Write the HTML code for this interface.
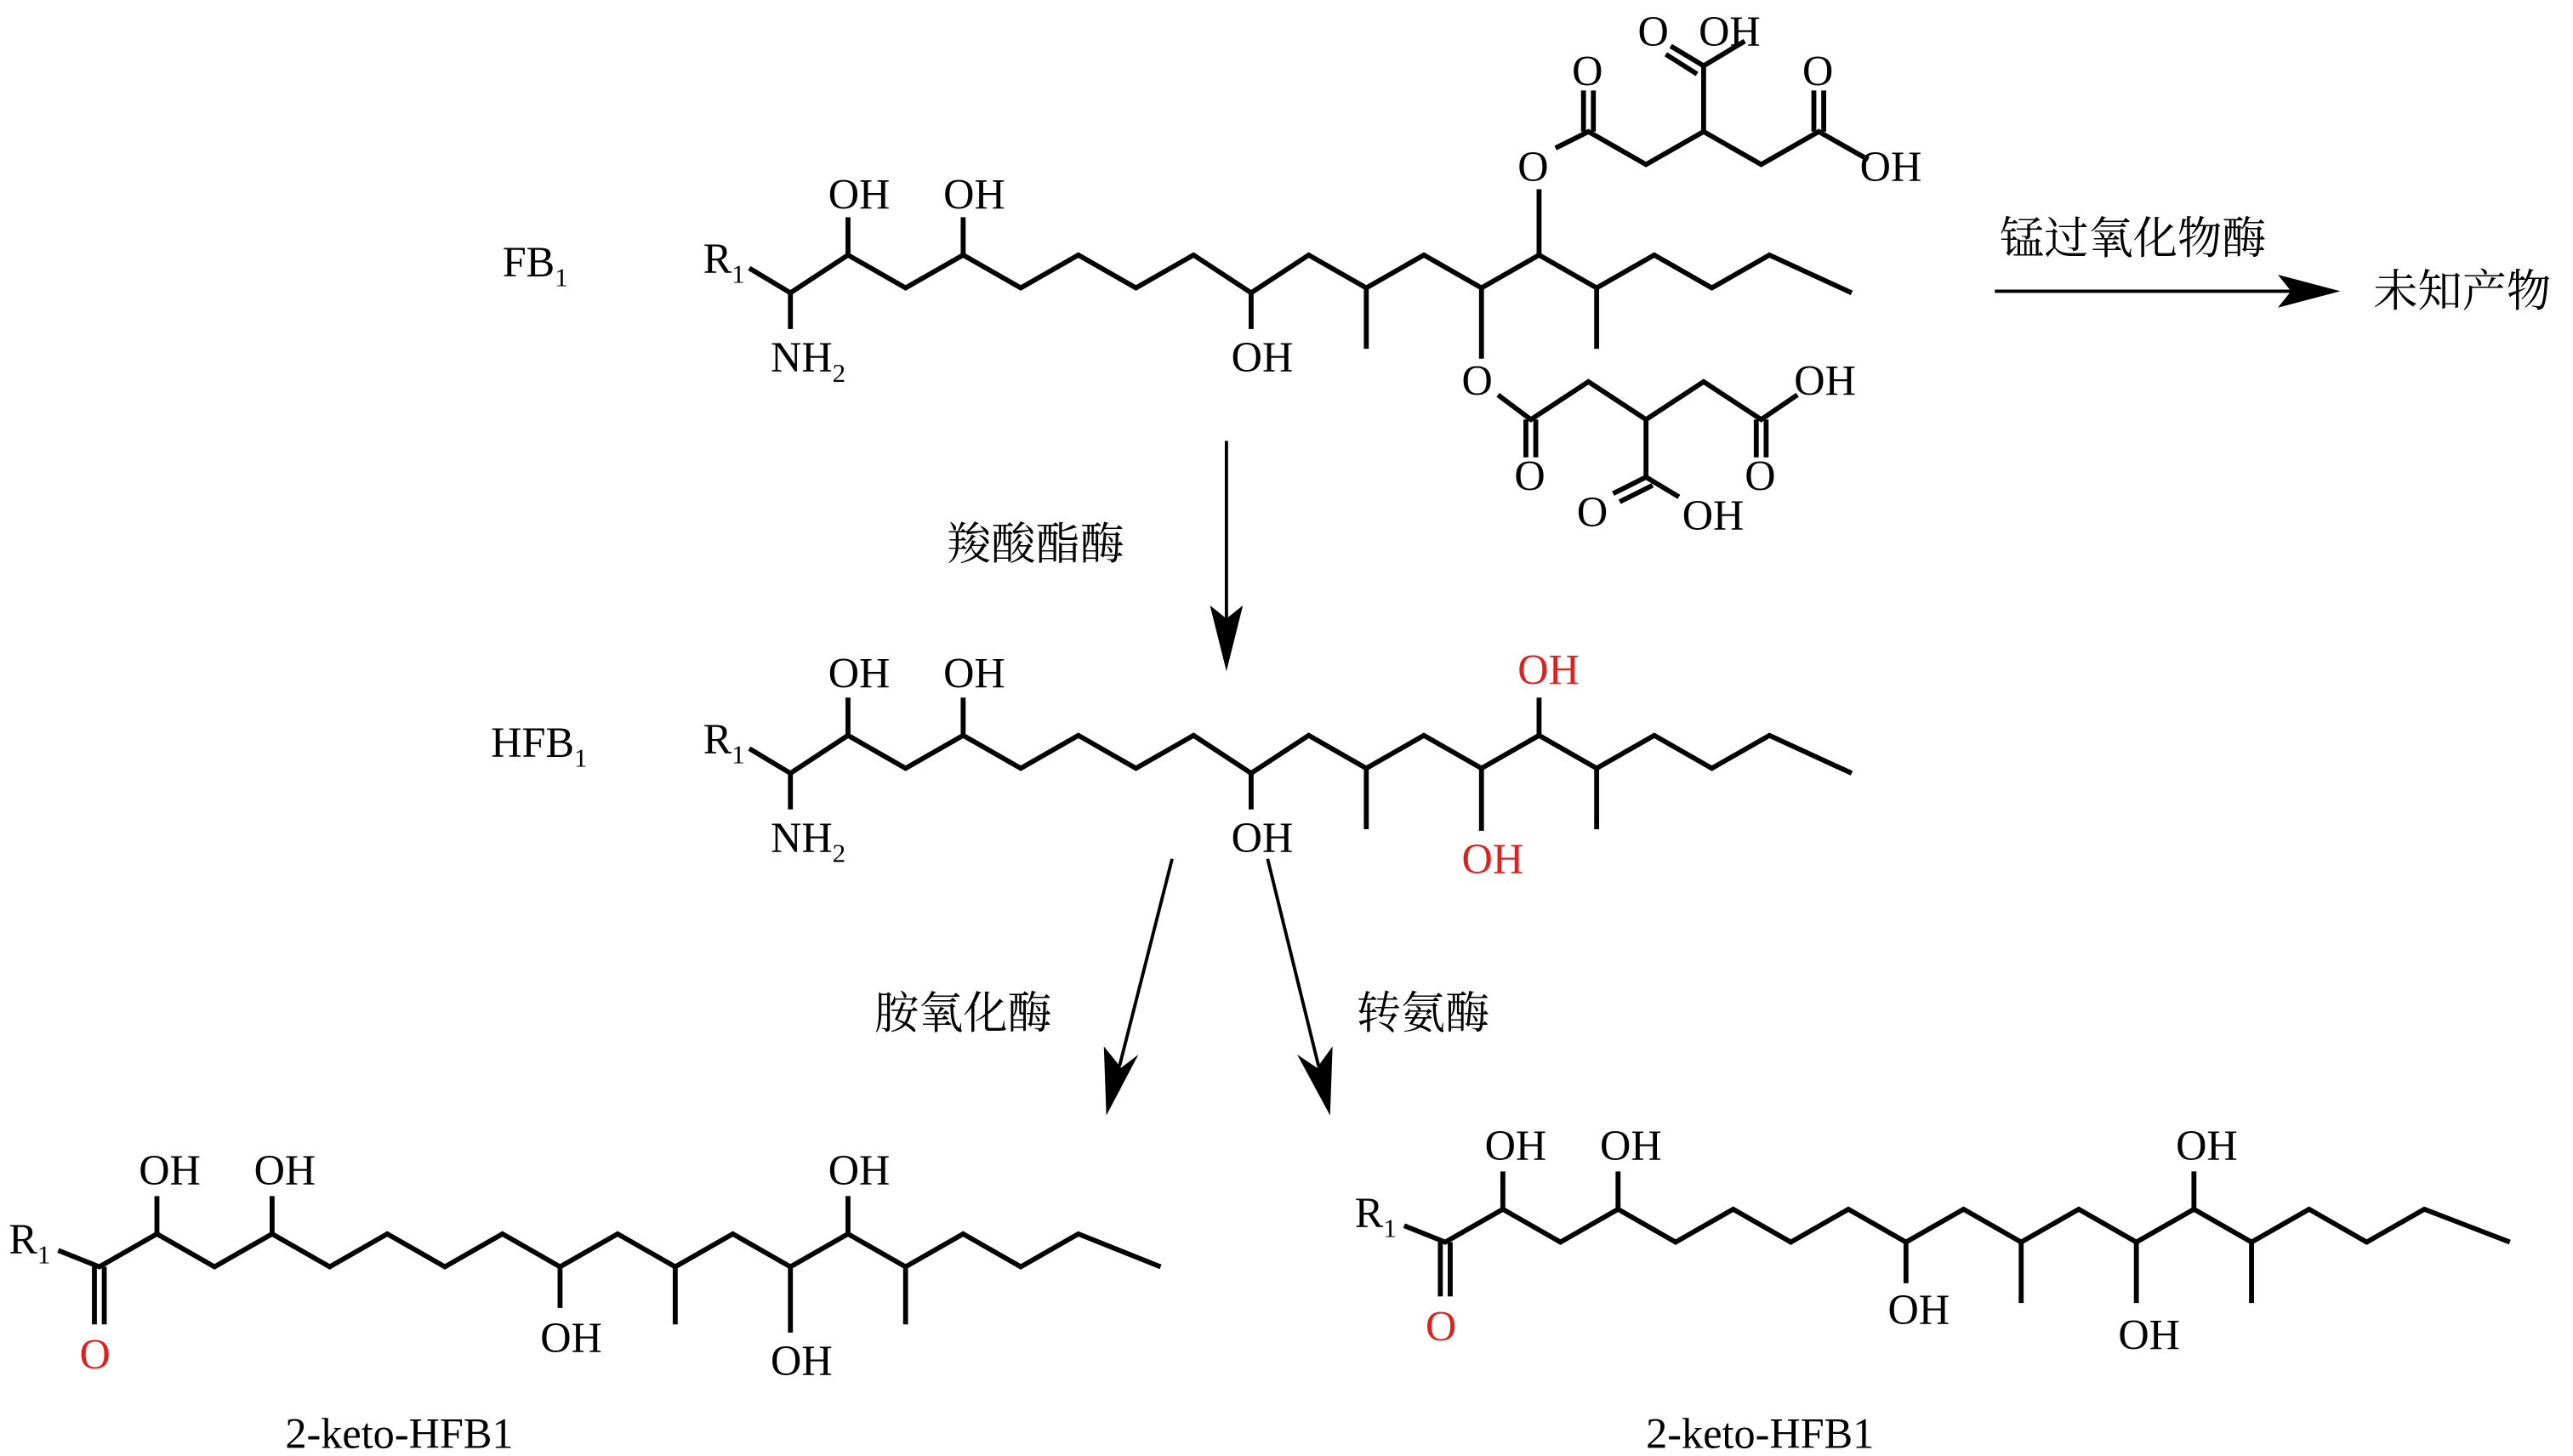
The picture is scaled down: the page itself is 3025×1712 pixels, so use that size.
<!DOCTYPE html>
<html><head><meta charset="utf-8"><style>
html,body{margin:0;padding:0;background:#fff}
svg{display:block}
text{font-family:"Liberation Serif","Noto Serif CJK SC",serif;font-size:26px;fill:#000}
.cn{font-family:"Liberation Serif","Noto Serif CJK SC",serif;font-size:27px}
.r{fill:#e0201c}
.s{font-size:16px}
</style></head><body>
<svg width="3025" height="1712" viewBox="0 0 1563 885" xmlns="http://www.w3.org/2000/svg">
<g fill="none" stroke="#000" stroke-width="3">
<!-- FB1 -->
<polyline points="455,163 480,178 515,155 550,175 585,155 620,175 655,155 690,175 725,155 760,178 795,155 830,175 865,155 900,175 935,155 970,175 1005,155 1040,175 1075,155 1125,178"/>
<line x1="480" y1="178" x2="480" y2="200"/><line x1="515" y1="155" x2="515" y2="132"/><line x1="585" y1="155" x2="585" y2="132"/>
<line x1="760" y1="178" x2="760" y2="200"/><line x1="830" y1="175" x2="830" y2="212"/><line x1="970" y1="175" x2="970" y2="212"/>
<line x1="935" y1="155" x2="935" y2="115"/><line x1="900" y1="175" x2="900" y2="218"/>
<polyline points="945,90 965,80 1000,100 1035,80 1070,100 1105,80 1135,97"/>
<line x1="962" y1="80" x2="962" y2="55"/><line x1="968" y1="80" x2="968" y2="55"/>
<line x1="1035" y1="80" x2="1035" y2="40"/><line x1="1035" y1="40" x2="1060" y2="25"/><line x1="1035" y1="40" x2="1015" y2="28"/><line x1="1031" y1="45" x2="1012" y2="33"/>
<line x1="1102" y1="80" x2="1102" y2="55"/><line x1="1108" y1="80" x2="1108" y2="55"/>
<polyline points="910,240 930,255 965,232 1000,255 1035,232 1070,255 1092,240"/>
<line x1="927" y1="255" x2="927" y2="278"/><line x1="933" y1="255" x2="933" y2="278"/>
<line x1="1067" y1="255" x2="1067" y2="278"/><line x1="1073" y1="255" x2="1073" y2="278"/>
<line x1="1000" y1="255" x2="1000" y2="290"/><line x1="1000" y1="290" x2="1020" y2="302"/><line x1="1000" y1="290" x2="980" y2="300"/><line x1="1004" y1="295" x2="984" y2="305"/>
<!-- arrows -->
<line x1="1212" y1="177" x2="1400" y2="177" stroke-width="2"/>
<line x1="745" y1="268" x2="745" y2="380" stroke-width="2"/>
<line x1="712" y1="522" x2="680" y2="648" stroke-width="2"/>
<line x1="770" y1="522" x2="801" y2="648" stroke-width="2"/>
<!-- HFB1 -->
<polyline points="455,455 480,470 515,447 550,467 585,447 620,467 655,447 690,467 725,447 760,470 795,447 830,467 865,447 900,467 935,447 970,467 1005,447 1040,467 1075,447 1125,470"/>
<line x1="480" y1="470" x2="480" y2="492"/><line x1="515" y1="447" x2="515" y2="424"/><line x1="585" y1="447" x2="585" y2="424"/>
<line x1="760" y1="470" x2="760" y2="492"/><line x1="830" y1="467" x2="830" y2="504"/><line x1="970" y1="467" x2="970" y2="504"/>
<line x1="935" y1="447" x2="935" y2="424"/><line x1="900" y1="467" x2="900" y2="505"/>
<!-- bottom left -->
<polyline points="35,760 60,770 95,750 130,770 165,750 200,770 235,750 270,770 305,750 340,770 375,750 410,770 445,750 480,770 515,750 550,770 585,750 620,770 655,750 705,770"/>
<line x1="57" y1="770" x2="57" y2="805"/><line x1="63" y1="770" x2="63" y2="805"/>
<line x1="95" y1="750" x2="95" y2="727"/><line x1="165" y1="750" x2="165" y2="727"/><line x1="340" y1="770" x2="340" y2="795"/>
<line x1="410" y1="770" x2="410" y2="805"/><line x1="480" y1="770" x2="480" y2="810"/><line x1="515" y1="750" x2="515" y2="727"/><line x1="550" y1="770" x2="550" y2="805"/>
<!-- bottom right -->
<polyline points="853,745 878,755 913,735 948,755 983,735 1018,755 1053,735 1088,755 1123,735 1158,755 1193,735 1228,755 1263,735 1298,755 1333,735 1368,755 1403,735 1438,755 1473,735 1525,755"/>
<line x1="875" y1="755" x2="875" y2="788"/><line x1="881" y1="755" x2="881" y2="788"/>
<line x1="913" y1="735" x2="913" y2="712"/><line x1="983" y1="735" x2="983" y2="712"/><line x1="1158" y1="755" x2="1158" y2="780"/>
<line x1="1228" y1="755" x2="1228" y2="792"/><line x1="1298" y1="755" x2="1298" y2="792"/><line x1="1333" y1="735" x2="1333" y2="712"/><line x1="1368" y1="755" x2="1368" y2="792"/>
</g>
<g fill="#000">
<path d="M1422,177 L1384,167 L1392,177 L1384,187z"/>
<path d="M745,408 L735,368 L745,376 L755,368z"/>
<path d="M672,678 L691.5,641 L681,649 L670.5,636z"/>
<path d="M808,678 L809.5,636 L800,649 L788,641z"/>
</g>
<!-- FB1 text -->
<text x="305" y="168">FB<tspan class="s" dy="6">1</tspan></text>
<text x="427" y="166">R<tspan class="s" dy="6">1</tspan></text>
<text x="468" y="226">NH<tspan class="s" dy="6">2</tspan></text>
<text x="503" y="127">OH</text><text x="573" y="127">OH</text><text x="748" y="226">OH</text>
<text x="922" y="110">O</text><text x="888" y="240">O</text>
<text x="955" y="52">O</text><text x="995" y="28">O</text><text x="1032" y="28">OH</text>
<text x="1095" y="52">O</text><text x="1130" y="110">OH</text>
<text x="1090" y="240">OH</text><text x="920" y="298">O</text><text x="1060" y="298">O</text>
<text x="958" y="320">O</text><text x="1022" y="322">OH</text>
<text class="cn" x="1215" y="154">锰过氧化物酶</text>
<text class="cn" x="1442" y="186">未知产物</text>
<text class="cn" x="575" y="340">羧酸酯酶</text>
<!-- HFB1 text -->
<text x="298" y="460">HFB<tspan class="s" dy="6">1</tspan></text>
<text x="427" y="458">R<tspan class="s" dy="6">1</tspan></text>
<text x="468" y="518">NH<tspan class="s" dy="6">2</tspan></text>
<text x="503" y="418">OH</text><text x="573" y="418">OH</text><text x="748" y="518">OH</text>
<text class="r" x="922" y="416">OH</text><text class="r" x="888" y="531">OH</text>
<text class="cn" x="531" y="625">胺氧化酶</text>
<text class="cn" x="824" y="625">转氨酶</text>
<!-- bottom left text -->
<text x="5" y="762">R<tspan class="s" dy="6">1</tspan></text>
<text class="r" x="48" y="832">O</text>
<text x="84" y="720">OH</text><text x="154" y="720">OH</text><text x="328" y="822">OH</text>
<text x="468" y="836">OH</text><text x="503" y="720">OH</text>
<text x="173" y="880">2-keto-HFB1</text>
<!-- bottom right text -->
<text x="823" y="746">R<tspan class="s" dy="6">1</tspan></text>
<text class="r" x="866" y="815">O</text>
<text x="902" y="705">OH</text><text x="972" y="705">OH</text><text x="1147" y="805">OH</text>
<text x="1287" y="820">OH</text><text x="1322" y="705">OH</text>
<text x="1000" y="880">2-keto-HFB1</text>
</svg>
</body></html>
